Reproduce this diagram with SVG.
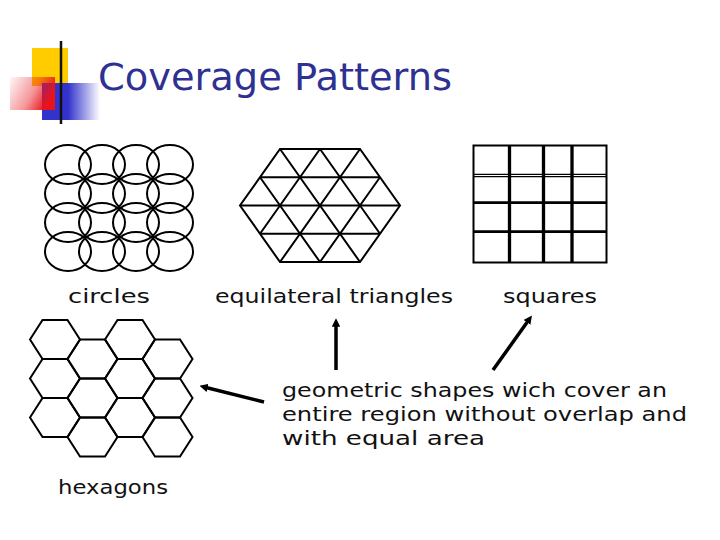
<svg xmlns="http://www.w3.org/2000/svg" xmlns:xlink="http://www.w3.org/1999/xlink" width="720" height="540" viewBox="0 0 720 540">
<style>
.shape{fill:none;stroke:#000;stroke-width:2}
.lbl{font-family:"DejaVu Sans","Liberation Sans",Arial,sans-serif;font-size:20px;fill:#111}
.title{font-family:"DejaVu Sans","Liberation Sans",sans-serif;font-size:38px;fill:#2E3192}
.arrow{stroke:#000;stroke-width:3.5;fill:none;marker-end:url(#ah)}
</style>
<defs>
<marker id="ah" viewBox="0 0 10 10" refX="2" refY="5" markerWidth="2.4" markerHeight="2.4" orient="auto">
<path d="M0,0 L10,5 L0,10 Z" fill="#000"/>
</marker>
<path id="hex" d="M0,19.5 L12.5,0 L37.5,0 L50,19.5 L37.5,39 L12.5,39 Z"/>
<linearGradient id="gLine" x1="0" y1="0" x2="1" y2="0">
<stop offset="0" stop-color="#000"/>
<stop offset="0.12" stop-color="#222"/>
<stop offset="0.5" stop-color="#999"/>
<stop offset="1" stop-color="#fff"/>
</linearGradient>
<linearGradient id="gBlue" x1="0" y1="0" x2="1" y2="0">
<stop offset="0" stop-color="#3333CC"/>
<stop offset="0.45" stop-color="#3333CC"/>
<stop offset="1" stop-color="#3333CC" stop-opacity="0"/>
</linearGradient>
<linearGradient id="gRed" x1="0" y1="0" x2="1" y2="0.4">
<stop offset="0" stop-color="#E8141C" stop-opacity="0.03"/>
<stop offset="0.6" stop-color="#E8141C" stop-opacity="0.45"/>
<stop offset="1" stop-color="#E8141C"/>
</linearGradient>
</defs>
<rect width="720" height="540" fill="#fff"/>

<g id="logo">
<rect x="32" y="48" width="36" height="38" fill="#FFCC00"/>
<rect x="42" y="83" width="58" height="37" fill="url(#gBlue)"/>
<rect x="10" y="77" width="45" height="33" fill="url(#gRed)"/>
<line x1="33" y1="105" x2="712" y2="105" stroke="url(#gLine)" stroke-width="3"/>
<line x1="61" y1="41" x2="61" y2="124" stroke="#111" stroke-width="2.5"/>
</g>

<g id="title">
<text class="title" x="98" y="90" textLength="354" lengthAdjust="spacingAndGlyphs">Coverage Patterns</text>
</g>

<g id="circles" class="shape">
<ellipse cx="68" cy="164.5" rx="23" ry="19.5"/><ellipse cx="102" cy="164.5" rx="23" ry="19.5"/><ellipse cx="136" cy="164.5" rx="23" ry="19.5"/><ellipse cx="170" cy="164.5" rx="23" ry="19.5"/>
<ellipse cx="68" cy="193.5" rx="23" ry="19.5"/><ellipse cx="102" cy="193.5" rx="23" ry="19.5"/><ellipse cx="136" cy="193.5" rx="23" ry="19.5"/><ellipse cx="170" cy="193.5" rx="23" ry="19.5"/>
<ellipse cx="68" cy="222.5" rx="23" ry="19.5"/><ellipse cx="102" cy="222.5" rx="23" ry="19.5"/><ellipse cx="136" cy="222.5" rx="23" ry="19.5"/><ellipse cx="170" cy="222.5" rx="23" ry="19.5"/>
<ellipse cx="68" cy="251.5" rx="23" ry="19.5"/><ellipse cx="102" cy="251.5" rx="23" ry="19.5"/><ellipse cx="136" cy="251.5" rx="23" ry="19.5"/><ellipse cx="170" cy="251.5" rx="23" ry="19.5"/>
</g>
<g id="circles-label"><text class="lbl" x="68" y="303" textLength="82" lengthAdjust="spacingAndGlyphs">circles</text></g>

<g id="triangles" class="shape">
<path d="M280,149 L360,149 L400,205.5 L360,262 L280,262 L240,205.5 Z"/>
<path d="M260,177.25 H380 M240,205.5 H400 M260,233.75 H380"/>
<path d="M280,149 L360,262 M320,149 L380,233.75 M260,177.25 L320,262"/>
<path d="M360,149 L280,262 M320,149 L260,233.75 M380,177.25 L320,262"/>
</g>
<g id="triangles-label"><text class="lbl" x="215" y="303" textLength="238" lengthAdjust="spacingAndGlyphs">equilateral triangles</text></g>

<g id="squares" fill="none" stroke="#000">
<rect x="473.5" y="145.5" width="133" height="117" stroke-width="2"/>
<path d="M509.5,145 V263 M543.5,145 V263 M572,145 V263" stroke-width="3.3"/>
<path d="M473,174.3 H607 M473,176.6 H607" stroke-width="1.3"/>
<path d="M473,202.7 H607 M473,231.7 H607" stroke-width="2.7"/>
</g>
<g id="squares-label"><text class="lbl" x="503" y="303" textLength="94" lengthAdjust="spacingAndGlyphs">squares</text></g>

<g id="hexagons" class="shape">
<use xlink:href="#hex" x="30" y="320"/><use xlink:href="#hex" x="30" y="359"/><use xlink:href="#hex" x="30" y="398"/>
<use xlink:href="#hex" x="67.5" y="339.5"/><use xlink:href="#hex" x="67.5" y="378.5"/><use xlink:href="#hex" x="67.5" y="417.5"/>
<use xlink:href="#hex" x="105" y="320"/><use xlink:href="#hex" x="105" y="359"/><use xlink:href="#hex" x="105" y="398"/>
<use xlink:href="#hex" x="142.5" y="339.5"/><use xlink:href="#hex" x="142.5" y="378.5"/><use xlink:href="#hex" x="142.5" y="417.5"/>
</g>
<g id="hexagons-label"><text class="lbl" x="58" y="494" textLength="110" lengthAdjust="spacingAndGlyphs">hexagons</text></g>

<g id="caption">
<text class="lbl" x="282" y="397" textLength="385" lengthAdjust="spacingAndGlyphs">geometric shapes wich cover an</text>
<text class="lbl" x="282" y="421" textLength="405" lengthAdjust="spacingAndGlyphs">entire region without overlap and</text>
<text class="lbl" x="282" y="445" textLength="203" lengthAdjust="spacingAndGlyphs">with equal area</text>
</g>

<g id="connectors">
<line class="arrow" x1="336" y1="370" x2="336" y2="325"/>
<line class="arrow" x1="493" y1="370" x2="528" y2="321"/>
<line class="arrow" x1="264" y1="402" x2="206" y2="387.5"/>
</g>
</svg>
